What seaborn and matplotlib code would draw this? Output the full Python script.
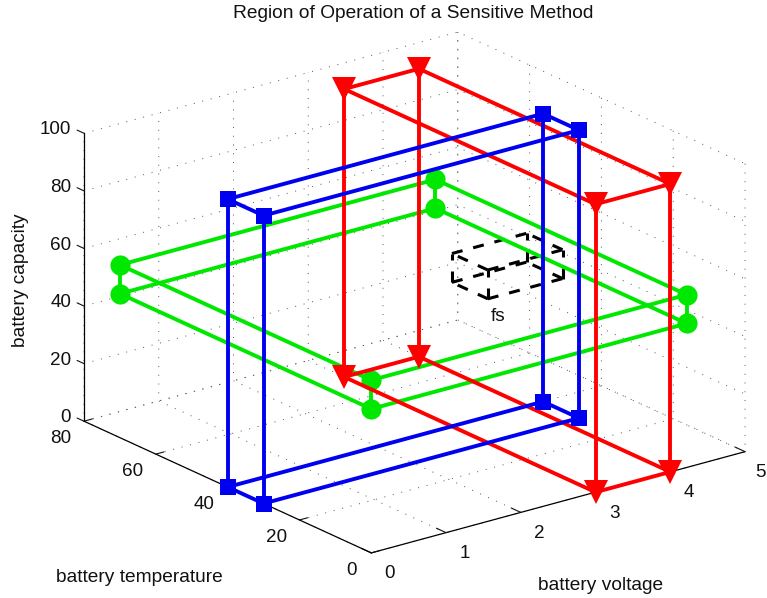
from itertools import product
import matplotlib
matplotlib.use("Agg")
import matplotlib.pyplot as plt
from matplotlib.transforms import Affine2D
import seaborn as sns

title = "Region of Operation of a Sensitive Method"
xlabel = "battery voltage"
ylabel = "battery temperature"
zlabel = "battery capacity"
xticks = [0, 1, 2, 3, 4, 5]
yticks = [0, 20, 40, 60, 80]
zticks = [0, 20, 40, 60, 80, 100]

red_x = [3, 4]
red_y = [0, 70]
red_z = [0, 100]
blue_x = [0, 4.22]
blue_y = [30, 40]
blue_z = [0, 100]
green_x = [0, 4.22]
green_y = [0, 70]
green_z = [50, 60]
fs_x = [3, 4]
fs_y = [30, 40]
fs_z = [50, 60]

sns.set_style("white")
plt.rcParams["font.family"] = ["Liberation Sans", "DejaVu Sans"]
plt.rcParams["grid.color"] = "#555555"
plt.rcParams["grid.linestyle"] = (0, (1, 8))
plt.rcParams["grid.linewidth"] = 0.7
plt.rcParams["text.color"] = "#111111"
palette = sns.color_palette(["#ff0000", "#0000f0", "#00e800"])
FS = 13.6
FL = 13.8

W, H = 767, 598
size = 712.8
fig = plt.figure(figsize=(W / 100, H / 100), dpi=100)
ax = fig.add_axes([48.5 / W, (H - 658.5) / H, size / W, size / H], projection="3d", proj_type="ortho")
ax.computed_zorder = False
ax.view_init(elev=20.63, azim=-127.55)
ax.set_box_aspect((471.5, 471.5, 307.7))
ax.set_xlim(0, 5, view_margin=0)
ax.set_ylim(0, 80, view_margin=0)
ax.set_zlim(0, 100, view_margin=0)
ax.set_xticks(xticks)
ax.set_yticks(yticks)
ax.set_zticks(zticks)
ax.tick_params(labelsize=FS, colors="#111111", pad=0)

for axis, factor in ((ax.xaxis, 0.42), (ax.yaxis, 0.27), (ax.zaxis, 0.3)):
    axis.pane.set_visible(False)
    axis.line.set_color("black")
    axis.line.set_linewidth(0.9)
    axis._axinfo["tick"]["inward_factor"] = 0.0
    axis._axinfo["tick"]["outward_factor"] = factor
    axis._axinfo["tick"]["linewidth"] = {True: 0.8, False: 0.5}
ax.zaxis._get_tickdir = lambda pos: 1


def shift_labels(axis, offsets):
    """Axis3D resets tick label transforms whenever it fetches its ticks."""
    original = axis.get_major_ticks

    def patched(numticks=None):
        ticks = original(numticks)
        for tick, (dx, dy) in zip(ticks, offsets):
            tick.label1.set_transform(ax.transData + Affine2D().translate(dx, dy))
        return ticks

    axis.get_major_ticks = patched


shift_labels(ax.xaxis, [(10, 0)] * 5 + [(7, 0)])
shift_labels(ax.yaxis, [(-9, 3)] + [(-12, 3)] * 4)
shift_labels(ax.zaxis, [(7, 11)] * 6)
for tick in ax.zaxis.get_major_ticks():
    tick.label1.set_ha("right")


def draw_box(xs, ys, zs, zorder, **kw):
    corners = list(product(xs, ys, zs))
    for a in corners:
        for b in corners:
            if a < b and sum(p != q for p, q in zip(a, b)) == 1:
                ax.plot(*zip(a, b), zorder=zorder, clip_on=False, **kw)


def draw_markers(xs, ys, zs, zorder, **kw):
    px, py, pz = zip(*product(xs, ys, zs))
    ax.plot(px, py, pz, ls="none", zorder=zorder, clip_on=False, **kw)


draw_box(fs_x, fs_y, fs_z, 2, color="black", lw=2.2, dashes=(3.6, 3.6), dash_capstyle="butt")
draw_box(green_x, green_y, green_z, 3, color=palette[2], lw=2.8)
draw_markers(green_x, green_y, green_z, 3.1, color=palette[2], marker="o", ms=14.5, mew=0)
draw_box(red_x, red_y, red_z, 4, color=palette[0], lw=2.8)
draw_markers(red_x, red_y, red_z, 4.1, color=palette[0], marker="v", ms=17.5, mew=0)
draw_box(blue_x, blue_y, blue_z, 5, color=palette[1], lw=2.8)
draw_markers(blue_x, blue_y, blue_z, 5.1, color=palette[1], marker="s", ms=11.5, mew=0)

ax.text(3.14, 30, 43, "fs", fontsize=FS, ha="center", va="center", zorder=6)

ax.set_title(title, fontsize=FL, x=(413 - 48.5) / size, y=636.7 / size / 0.92, va="center")
fig.text(139.5 / W, 1 - 578 / H, ylabel, fontsize=FL, ha="center", va="center")
fig.text(601 / W, 1 - 585 / H, xlabel, fontsize=FL, ha="center", va="center")
fig.text(21 / W, 1 - 280 / H, zlabel, fontsize=FL, ha="center", va="center", rotation=90)

fig.savefig("out.png", dpi=100)
